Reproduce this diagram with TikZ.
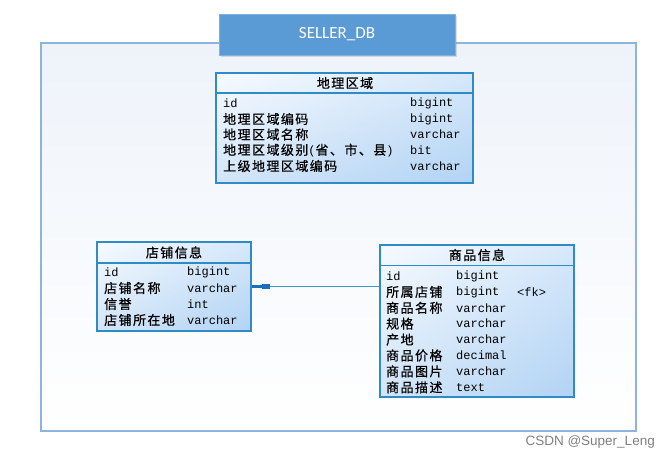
\documentclass[tikz,border=0pt]{standalone}
\usepackage{fontspec}
\setmainfont{Liberation Mono}
\newfontfamily\cjk[LetterSpace=11,FakeBold=0.6]{Noto Sans CJK SC}
\newfontfamily\titlefont{Carlito}
\newfontfamily\wmfont{Liberation Sans}
\usetikzlibrary{shadows,shadings}
\newcommand\zh[1]{{\cjk\fontsize{13}{13}\selectfont #1}}
\definecolor{tblborder}{HTML}{2E8BC8}
\definecolor{frameborder}{HTML}{8DB5DC}
\definecolor{titlefill}{HTML}{5B9BD5}
\definecolor{titleborder}{HTML}{7FB2DE}
\definecolor{linkcol}{HTML}{3A9AD0}
\definecolor{linktip}{HTML}{1A70B8}
\definecolor{cTL}{HTML}{F6FAFF}
\definecolor{cTR}{HTML}{D6E8FA}
\definecolor{cBL}{HTML}{D2E5F8}
\definecolor{cBR}{HTML}{B2D3F4}
\definecolor{frametop}{HTML}{EEF3FA}
\begin{document}
\begin{tikzpicture}[x=1pt,y=-1pt,
  tbl/.style={rectangle,draw=tblborder,line width=1.1pt,inner sep=0pt,shade,
    upper left=cTL,upper right=cTR,lower left=cBL,lower right=cBR},
  hdr/.style={inner sep=0pt,font=\fontsize{12}{12}\selectfont,anchor=center},
  cell/.style={inner sep=0pt,font=\fontsize{12}{12}\selectfont,anchor=west},
  sep/.style={draw=tblborder,line width=1.1pt}]
\useasboundingbox (0,0) rectangle (670,461);
% outer frame
\node[rectangle,draw=frameborder,line width=1.3pt,top color=frametop,bottom color=white,
  minimum width=595pt,minimum height=388pt,inner sep=0pt] (frame) at (338.5,237) {};
% title
\node[rectangle,fill=titlefill,draw=titleborder,line width=0.8pt,drop shadow={opacity=0.25,shadow xshift=1.5pt,shadow yshift=-1.5pt},
  minimum width=236pt,minimum height=41pt,inner sep=0pt,text=white,
  font=\titlefont\fontsize{17}{17}\selectfont] (title) at (337,34.5) {SELLER\_DB};
% table 1
\node[tbl,minimum width=257pt,minimum height=110pt] (t1) at (344.5,128) {};
\draw[sep] (t1.west |- 0,93) -- (t1.east |- 0,93);
\node[hdr] (t1h) at (345,83) {\zh{地理区域}};
\node[cell] (t1a1) at (223,103) {id};
\node[cell] (t1a2) at (223,119) {\zh{地理区域编码}};
\node[cell] (t1a3) at (223,134.5) {\zh{地理区域名称}};
\node[cell] (t1a4) at (223,150.5) {\zh{地理区域级别}(\zh{省、市、县})};
\node[cell] (t1a5) at (223,166) {\zh{上级地理区域编码}};
\node[cell] (t1b1) at (410,103) {bigint};
\node[cell] (t1b2) at (410,119) {bigint};
\node[cell] (t1b3) at (410,134.5) {varchar};
\node[cell] (t1b4) at (410,150.5) {bit};
\node[cell] (t1b5) at (410,166) {varchar};
% table 2
\node[tbl,minimum width=154pt,minimum height=89pt] (t2) at (174,286.5) {};
\draw[sep] (t2.west |- 0,263) -- (t2.east |- 0,263);
\node[hdr] (t2h) at (174,252.5) {\zh{店铺信息}};
\node[cell] (t2a1) at (104,272) {id};
\node[cell] (t2a2) at (104,288) {\zh{店铺名称}};
\node[cell] (t2a3) at (104,304) {\zh{信誉}};
\node[cell] (t2a4) at (104,320) {\zh{店铺所在地}};
\node[cell] (t2b1) at (187,272) {bigint};
\node[cell] (t2b2) at (187,288) {varchar};
\node[cell] (t2b3) at (187,304) {int};
\node[cell] (t2b4) at (187,320) {varchar};
% table 3
\node[tbl,minimum width=194pt,minimum height=152pt] (t3) at (477,321) {};
\draw[sep] (t3.west |- 0,265.5) -- (t3.east |- 0,265.5);
\node[hdr] (t3h) at (477,255) {\zh{商品信息}};
\foreach \i/\a/\b in {0/id/bigint,1/\zh{所属店铺}/bigint,2/\zh{商品名称}/varchar,3/\zh{规格}/varchar,
  4/\zh{产地}/varchar,5/\zh{商品价格}/decimal,6/\zh{商品图片}/varchar,7/\zh{商品描述}/text}{
  \node[cell] (t3a\i) at (386,{276+15.9*\i}) {\a};
  \node[cell] (t3b\i) at (456,{276+15.9*\i}) {\b};
}
\node[cell] (t3fk) at (517,291.9) {<fk>};
% connector
\draw[linkcol,line width=1.6pt] (t2.east) -- (t2.east -| t3.west);
\node[rectangle,fill=linktip,minimum width=8pt,minimum height=5.5pt,inner sep=0pt] (fkmark) at (266,286.5) {};
\draw[linktip,line width=2.2pt] (t2.east) -- (fkmark.west);
% watermark
\node[anchor=east,inner sep=0pt,text=black!50,font=\wmfont\fontsize{13.5}{13.5}\selectfont] (wm) at (655,442) {CSDN @Super\_Leng};
\end{tikzpicture}
\end{document}
